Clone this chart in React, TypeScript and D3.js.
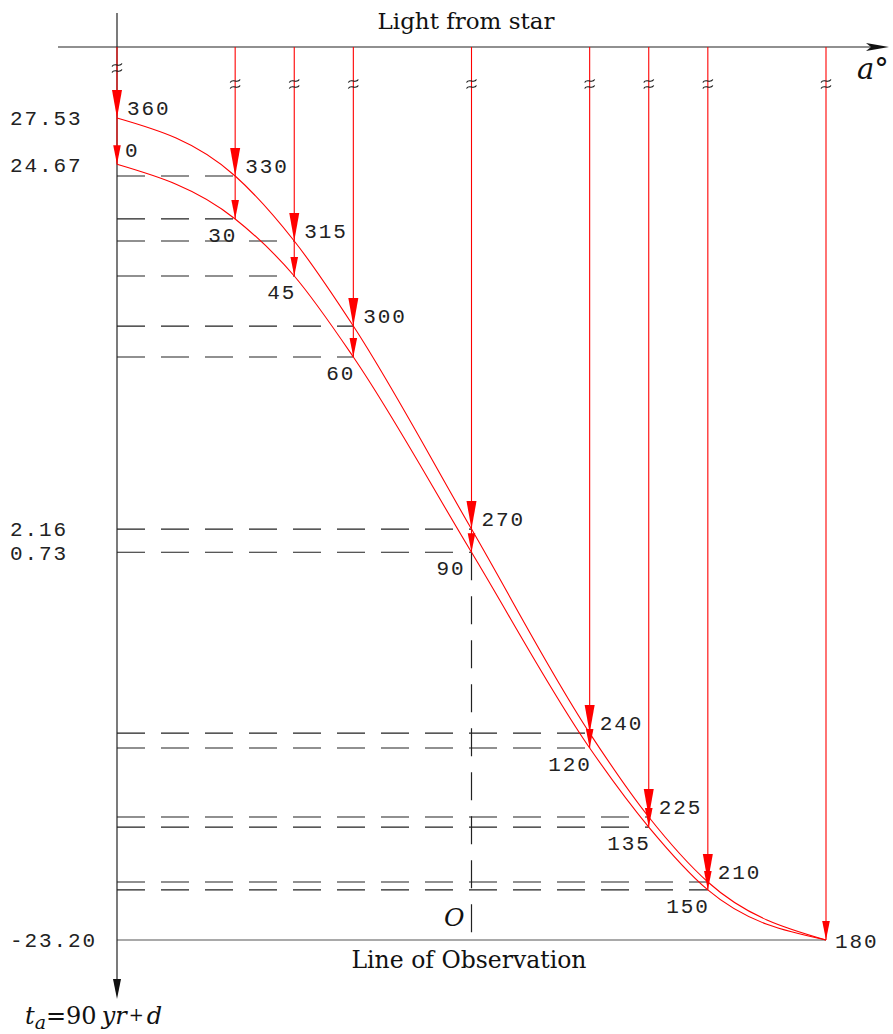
import React, { useEffect, useRef } from "react";
import * as d3 from "d3";

// lower curve: a from 0 to 180
const lowerAngles = [0, 30, 45, 60, 90, 120, 135, 150, 180];
const lowerValues = [24.67, 21.3, 17.78, 12.78, 0.73, -11.35, -16.23, -20.11, -23.2];
// upper curve: a from 360 down to 180
const upperAngles = [360, 330, 315, 300, 270, 240, 225, 210, 180];
const upperValues = [27.53, 23.95, 19.94, 14.69, 2.16, -10.43, -15.61, -19.62, -23.2];
const tickValues = [27.53, 24.67, 2.16, 0.73, -23.2];

const W = 893;
const H = 1034;

export default function App() {
  const ref = useRef<SVGSVGElement>(null);

  useEffect(() => {
    const svg = d3.select(ref.current);
    svg.selectAll("*").remove();

    const x = d3.scaleLinear().domain([0, 180]).range([117, 826]);
    const y = d3.scaleLinear().domain([27.53, -23.2]).range([118, 940]);
    const pos = (a: number) => (a > 180 ? 360 - a : a);

    const lower = lowerAngles.map((a, i) => ({ a, px: x(pos(a)), py: y(lowerValues[i]) }));
    const upper = upperAngles.map((a, i) => ({ a, px: x(pos(a)), py: y(upperValues[i]) }));

    const mono = "'Liberation Mono', monospace";
    const serif = "'DejaVu Serif', serif";
    const axisTop = 47;
    const x0 = x(0);
    const yBottom = y(-23.2);

    // dashed guide lines
    const dashed = svg.append("g").attr("stroke", "#222").attr("stroke-width", 1.2)
      .attr("stroke-dasharray", "28,16").attr("fill", "none");
    [...lower, ...upper]
      .filter(d => d.a !== 180 && d.a !== 0 && d.a !== 360)
      .forEach(d => {
        dashed.append("line").attr("x1", x0).attr("x2", d.px).attr("y1", d.py).attr("y2", d.py);
      });
    dashed.append("line").attr("x1", x(90)).attr("x2", x(90))
      .attr("y1", y(0.73)).attr("y2", yBottom);

    // line of observation
    svg.append("line").attr("x1", x0).attr("x2", x(180)).attr("y1", yBottom).attr("y2", yBottom)
      .attr("stroke", "#555").attr("stroke-width", 1.2);

    // vertical axis
    svg.append("line").attr("x1", x0).attr("x2", x0).attr("y1", 13).attr("y2", 985)
      .attr("stroke", "#222").attr("stroke-width", 1.2);
    svg.append("path").attr("d", `M${x0 - 4},979 L${x0},999 L${x0 + 4},979 Z`)
      .attr("fill", "#111");

    // top axis
    svg.append("line").attr("x1", 58).attr("x2", 875).attr("y1", axisTop).attr("y2", axisTop)
      .attr("stroke", "#222").attr("stroke-width", 1.2);
    svg.append("path").attr("d", `M866,${axisTop - 4} L889,${axisTop} L866,${axisTop + 4} L871,${axisTop} Z`)
      .attr("fill", "#111");

    // red light rays
    const rays = svg.append("g").attr("stroke", "#ff0000").attr("stroke-width", 1.1);
    lower.forEach((d, i) => {
      const yEnd = Math.max(d.py, upper[i].py);
      rays.append("line").attr("x1", d.px).attr("x2", d.px).attr("y1", axisTop).attr("y2", yEnd);
    });

    // curves
    const line = d3.line<{ px: number; py: number }>()
      .x(d => d.px).y(d => d.py).curve(d3.curveMonotoneX);
    [lower, upper].forEach(data => {
      svg.append("path").attr("d", line(data)).attr("fill", "none")
        .attr("stroke", "#ff0000").attr("stroke-width", 1.1);
    });

    // arrowheads
    const arrow = (px: number, py: number, len: number, half: number) =>
      svg.append("path")
        .attr("d", `M${px - half},${py - len} L${px},${py} L${px + half},${py - len} Z`)
        .attr("fill", "#ff0000");
    upper.forEach(d => {
      if (d.a === 180) return;
      arrow(d.px, d.py, 28, 5);
    });
    lower.forEach(d => arrow(d.px, d.py, 19, 3.8));

    // break marks (two stacked tildes)
    const breaks = svg.append("g").attr("fill", "none").attr("stroke", "#111").attr("stroke-width", 1.1);
    lower.forEach(d => {
      const cy = d.a === 0 ? 65 : 81;
      [cy, cy + 6].forEach(ty => {
        breaks.append("path").attr("d",
          `M${d.px - 5},${ty + 1.5} C${d.px - 2.5},${ty - 3} ${d.px + 2.5},${ty + 3} ${d.px + 5},${ty - 1.5}`);
      });
    });

    // point labels
    const label = (t: string, tx: number, ty: number, anchor: string) =>
      svg.append("text").attr("x", tx).attr("y", ty).attr("text-anchor", anchor)
        .attr("font-family", mono).attr("font-size", 21).attr("letter-spacing", 1.9)
        .attr("fill", "#222").text(t);
    upper.forEach(d => {
      if (d.a === 180) label("180", d.px + 9, d.py + 8, "start");
      else label(String(d.a), d.px + 10, d.py - 3, "start");
    });
    lower.forEach(d => {
      if (d.a === 180) return;
      if (d.a === 0) label("0", d.px + 8, d.py - 7, "start");
      else label(String(d.a), d.px + (d.a === 90 ? -6 : 2), d.py + 23, "end");
    });

    // tick values on the left
    tickValues.forEach(v => {
      svg.append("text").attr("x", 10).attr("y", y(v)).attr("dy", "0.35em")
        .attr("font-family", mono).attr("font-size", 21).attr("letter-spacing", 1.9)
        .attr("fill", "#222").text(v.toFixed(2));
    });

    // titles
    svg.append("text").attr("x", 466).attr("y", 29).attr("text-anchor", "middle")
      .attr("font-family", serif).attr("font-size", 23).attr("fill", "#111").text("Light from star");
    svg.append("text").attr("x", 469).attr("y", 968).attr("text-anchor", "middle")
      .attr("font-family", serif).attr("font-size", 23.5).attr("fill", "#111").text("Line of Observation");
    svg.append("text").attr("x", 444).attr("y", 926).attr("font-family", serif)
      .attr("font-style", "italic").attr("font-size", 25).attr("fill", "#111").text("O");
    svg.append("text").attr("x", 857).attr("y", 79).attr("font-family", serif)
      .attr("font-style", "italic").attr("font-size", 29).attr("fill", "#111").text("a°");

    const tl = svg.append("text").attr("x", 25).attr("y", 1024).attr("font-family", serif)
      .attr("font-size", 24).attr("fill", "#111");
    tl.append("tspan").attr("font-style", "italic").text("t");
    tl.append("tspan").attr("font-style", "italic").attr("font-size", 19).attr("dy", 5).text("a");
    tl.append("tspan").attr("dy", -5).text("=90");
    tl.append("tspan").attr("font-style", "italic").attr("dx", 5).text("yr");
    tl.append("tspan").attr("font-size", 18).attr("dx", 2).attr("dy", -3).text("+");
    tl.append("tspan").attr("font-style", "italic").attr("dx", 3).attr("dy", 3).text("d");
  }, []);

  return (
    <svg ref={ref} width={W} height={H}
      style={{ position: "absolute", left: 0, top: 0, display: "block", background: "#fff" }} />
  );
}
